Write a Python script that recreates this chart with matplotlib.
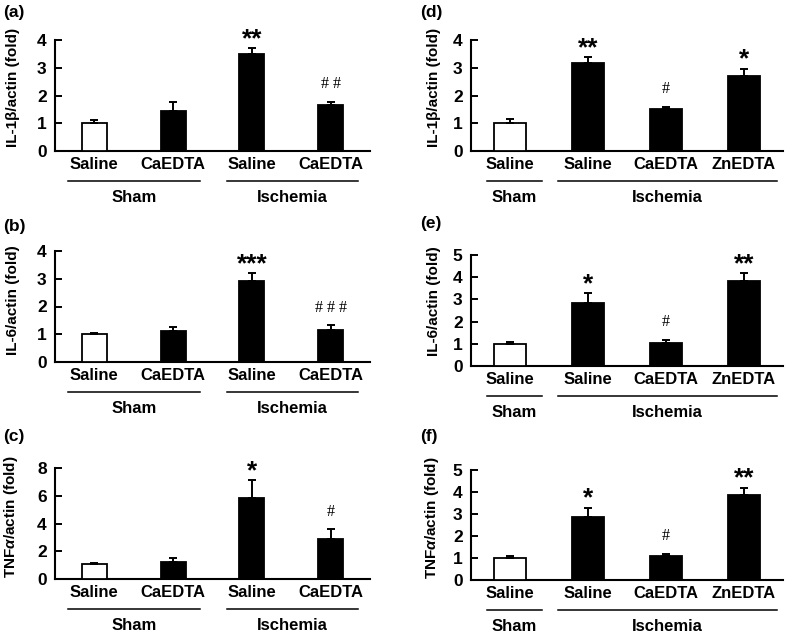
import matplotlib
matplotlib.use("Agg")
import matplotlib.pyplot as plt

plt.rcParams['font.family'] = ['Liberation Sans', 'DejaVu Sans']
plt.rcParams['font.weight'] = 'bold'
plt.rcParams['mathtext.fontset'] = 'custom'
plt.rcParams['mathtext.it'] = 'Liberation Sans:italic:bold'
plt.rcParams['mathtext.rm'] = 'Liberation Sans:bold'
plt.rcParams['mathtext.bf'] = 'Liberation Sans:bold'

# ---------------- data ----------------
cats_left = ["Saline", "CaEDTA", "Saline", "CaEDTA"]
cats_right = ["Saline", "Saline", "CaEDTA", "ZnEDTA"]

a_vals = [1.0, 1.45, 3.48, 1.67]
a_err = [0.12, 0.33, 0.23, 0.10]
a_sig = ["", "", "**", "# #"]

b_vals = [1.0, 1.13, 2.92, 1.17]
b_err = [0.05, 0.12, 0.28, 0.15]
b_sig = ["", "", "***", "# # #"]

c_vals = [1.05, 1.2, 5.85, 2.85]
c_err = [0.12, 0.28, 1.25, 0.72]
c_sig = ["", "", "*", "#"]

d_vals = [1.0, 3.18, 1.52, 2.72]
d_err = [0.17, 0.2, 0.07, 0.25]
d_sig = ["", "**", "#", "*"]

e_vals = [1.0, 2.86, 1.05, 3.84]
e_err = [0.1, 0.42, 0.14, 0.35]
e_sig = ["", "*", "#", "**"]

f_vals = [1.02, 2.87, 1.07, 3.85]
f_err = [0.09, 0.42, 0.12, 0.35]
f_sig = ["", "*", "#", "**"]

colors_bars = ["white", "black", "black", "black"]

W, H = 787, 636
fig = plt.figure(figsize=(W / 100, H / 100), dpi=100)


def px_axes(left, right, top, bottom):
    return fig.add_axes([left / W, 1 - bottom / H, (right - left) / W, (bottom - top) / H])


def draw(ax, vals, errs, sigs, cats, ymax, yticks, ylabel, label, width,
         groups, lab_x, lab_y, plabel_xy):
    x = list(range(len(vals)))
    ax.bar(x, vals, width=width, color=colors_bars, edgecolor="black", linewidth=1.3,
           yerr=[[0] * len(vals), errs],
           error_kw=dict(ecolor="black", elinewidth=1.4, capsize=3, capthick=1.4),
           zorder=3)
    ax.set_xlim(-0.5, 3.5)
    ax.set_ylim(0, ymax)
    ax.set_yticks(yticks)
    ax.set_yticklabels([str(t) for t in yticks], fontsize=12.5, fontweight='bold')
    ax.tick_params(axis='y', direction='in', length=5, width=1.4, pad=6)
    ax.tick_params(axis='x', length=0, pad=4)
    ax.set_xticks(x)
    ax.set_xticklabels(cats, fontsize=12, fontweight='bold')
    for s in ["top", "right"]:
        ax.spines[s].set_visible(False)
    for s in ["left", "bottom"]:
        ax.spines[s].set_linewidth(1.5)
    ax.set_ylabel(ylabel, fontsize=11, fontweight='bold')
    ax.yaxis.set_label_coords(lab_x, lab_y)
    # significance marks
    for xi, v, e, s in zip(x, vals, errs, sigs):
        if not s:
            continue
        if "*" in s:
            ax.annotate(s, (xi, v + e), xytext=(0, 1.5), textcoords="offset points",
                        ha="center", va="baseline", fontsize=19, fontweight="bold",
                        family=["Liberation Sans"])
        else:
            ax.annotate(s, (xi, v + e), xytext=(0, 7), textcoords="offset points",
                        ha="center", va="bottom", fontsize=11.5, fontweight="normal",
                        family=["Liberation Serif"])
    # group underlines and labels
    tr = ax.get_xaxis_transform()
    for (x0, x1, name) in groups:
        ax.plot([x0, x1], [-0.27, -0.27], color="black", lw=1.1, transform=tr, clip_on=False)
        ax.text((x0 + x1) / 2, -0.42, name, transform=tr, ha="center", va="center",
                fontsize=12, fontweight="bold")
    fig.text(plabel_xy[0] / W, 1 - plabel_xy[1] / H, label, fontsize=12.5,
             fontweight="bold", ha="left", va="center")


groups_left = [(-0.33, 1.34, "Sham"), (1.68, 3.35, "Ischemia")]
groups_right = [(-0.3, 0.41, "Sham"), (0.62, 3.42, "Ischemia")]

ax_a = px_axes(55, 370, 40, 151)
draw(ax_a, a_vals, a_err, a_sig, cats_left, 4, [0, 1, 2, 3, 4],
     "IL-1β/actin (fold)", "(a)", 0.32, groups_left, -0.111, 0.57, (3, 13))

ax_b = px_axes(55, 370, 251, 362)
draw(ax_b, b_vals, b_err, b_sig, cats_left, 4, [0, 1, 2, 3, 4],
     "IL-6/actin (fold)", "(b)", 0.32, groups_left, -0.111, 0.56, (3, 226))

ax_c = px_axes(55, 370, 468, 579)
draw(ax_c, c_vals, c_err, c_sig, cats_left, 8, [0, 2, 4, 6, 8],
     "TNF$\\alpha$/actin (fold)", "(c)", 0.32, groups_left, -0.111, 0.56, (3, 437))

ax_d = px_axes(471, 783, 40, 151)
draw(ax_d, d_vals, d_err, d_sig, cats_right, 4, [0, 1, 2, 3, 4],
     "IL-1β/actin (fold)", "(d)", 0.42, groups_right, -0.096, 0.57, (420, 13))

ax_e = px_axes(471, 783, 255, 366)
draw(ax_e, e_vals, e_err, e_sig, cats_right, 5, [0, 1, 2, 3, 4, 5],
     "IL-6/actin (fold)", "(e)", 0.42, groups_right, -0.096, 0.58, (420, 224))

ax_f = px_axes(471, 783, 470, 580)
draw(ax_f, f_vals, f_err, f_sig, cats_right, 5, [0, 1, 2, 3, 4, 5],
     "TNF$\\alpha$/actin (fold)", "(f)", 0.42, groups_right, -0.096, 0.57, (420, 437))

fig.savefig("out.png", dpi=100)
